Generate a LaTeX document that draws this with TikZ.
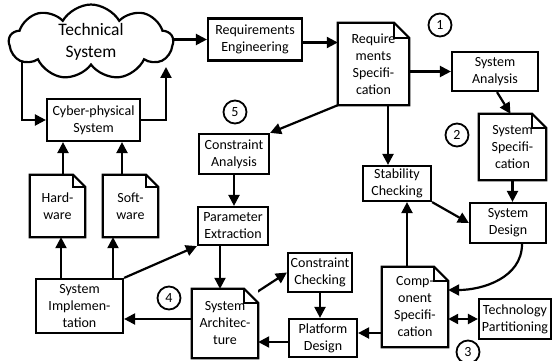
\documentclass[tikz,border=0pt]{standalone}
\usepackage{fontspec}
\setmainfont{Carlito}
\usetikzlibrary{shapes.symbols,arrows.meta,backgrounds,calc}
\begin{document}
\begin{tikzpicture}[x=1pt,y=-1pt,
  lw/.style={line width=2.2pt},
  every node/.style={font=\fontsize{14}{17}\selectfont, align=center, inner sep=0pt},
  box/.style={draw, fill=white, lw},
  docbox/.style={fill=white},
  docline/.style={lw, line join=miter},
  num/.style={draw, circle, line width=1.8pt, minimum size=23pt, fill=white},
  conn/.style={lw, -{Triangle[length=11pt,width=11pt]}},
  bconn/.style={lw, {Triangle[length=10pt,width=10pt]}-{Triangle[length=10pt,width=10pt]}},
  cloudbox/.style={draw, fill=white, lw, cloud, cloud puffs=9, cloud puff arc=120, aspect=2.5,
    font=\fontsize{17.5}{22}\selectfont}
]
\useasboundingbox (0,0) rectangle (552,361);

% nodes
\node[cloudbox, minimum width=164pt, minimum height=64pt] (cloud) at (91,42) {Technical\\System};
\node[box, minimum width=94pt, minimum height=42pt] (re) at (255,39.5) {Requirements\\Engineering};
\node[docbox, minimum width=71pt, minimum height=82pt] (rs) at (373.5,64) {Require\\ments\\Specifi-\\cation};
\node[box, minimum width=86pt, minimum height=39pt] (sa) at (495,71.5) {System\\Analysis};
\node[docbox, minimum width=67pt, minimum height=66pt] (ss) at (512.5,147) {System\\Specifi-\\cation};
\node[box, minimum width=76pt, minimum height=40pt] (sd) at (508,223) {System\\Design};
\node[box, minimum width=68pt, minimum height=35pt] (sc) at (397,183.5) {Stability\\Checking};
\node[docbox, minimum width=66pt, minimum height=80pt] (cs) at (415,307) {Comp-\\onent\\Specifi-\\cation};
\node[box, minimum width=72pt, minimum height=40pt] (tp) at (515,319) {Technology\\Partitioning};
\node[box, minimum width=68pt, minimum height=38pt] (pd) at (323,338) {Platform\\Design};
\node[box, minimum width=64pt, minimum height=39pt] (cc) at (320,272.5) {Constraint\\Checking};
\node[docbox, minimum width=66pt, minimum height=69pt] (arch) at (225,323.5) {System\\Architec-\\ture};
\node[box, minimum width=87pt, minimum height=54pt] (si) at (79.5,306) {System\\Implemen-\\tation};
\node[box, minimum width=70pt, minimum height=38pt] (pe) at (233,226) {Parameter\\Extraction};
\node[box, minimum width=70pt, minimum height=40pt] (ca) at (234,154) {Constraint\\Analysis};
\node[docbox, minimum width=55pt, minimum height=62pt] (hw) at (57.5,206) {Hard-\\ware};
\node[docbox, minimum width=55pt, minimum height=62pt] (sw) at (130.5,206) {Soft-\\ware};
\node[box, minimum width=93pt, minimum height=42pt] (cps) at (93.5,120) {Cyber-physical\\System};

\node[num] (n1) at (440,25) {1};
\node[num] (n2) at (457,135) {2};
\node[num] (n3) at (468,352) {3};
\node[num] (n4) at (169,298) {4};
\node[num] (n5) at (235,112) {5};

% document outlines
\foreach \n/\f in {rs/15,ss/14,cs/14,arch/14,hw/12,sw/12} {
  \draw[docline] (\n.south west) -- (\n.north west) -- ([xshift=-\f pt]\n.north east)
    -- ([yshift=-\f pt]\n.north east) -- (\n.south east) -- cycle;
  \draw[lw] ([xshift=-\f pt]\n.north east) |- ([yshift=-\f pt]\n.north east);
}

% helper coordinates
\coordinate (cloudin) at (166,67);
\coordinate (cloudout) at (22,55);
\coordinate (reout) at ([yshift=-3pt]re.east);
\coordinate (pdin) at ([yshift=5pt]pd.east);
\coordinate (siin) at ([yshift=-13pt]si.east);
\coordinate (archout) at ([xshift=-7pt,yshift=-7pt]arch.north east);

\begin{scope}[on background layer]
\draw[conn] (cloud.center |- re.west) -- (re.west);
\draw[conn] (reout) -- (reout -| rs.west);
\draw[conn] (rs.east |- sa.west) -- (sa.west);
\draw[conn] ([xshift=2pt]sa.south) -- ([xshift=-2pt]ss.north);
\draw[conn] (ss.south) -- (ss.south |- sd.north);
\draw[conn] (rs.south -| 388,0) -- (sc.north -| 388,0);
\draw[conn] (sc.south east) -- (sd.west);
\draw[conn] (cs.north -| 407,0) -- (sc.south -| 407,0);
\draw[conn] ([xshift=14pt]sd.south) to[out=-90,in=0] ([yshift=17pt]cs.east);
\draw[bconn] (cs.east |- tp.west) -- (tp.west);
\draw[conn] (cs.west |- pdin) -- (pdin);
\draw[conn] (cc.south) -- (cc.south |- pd.north);
\draw[conn] (pd.west |- 0,342) -- (arch.east |- 0,342);
\draw[conn] (archout) -- (cc.west);
\draw[conn] (arch.west |- siin) -- (siin);
\draw[conn] (pe.south -| 220,0) -- (arch.north -| 220,0);
\draw[conn] (si.north east) -- (pe.south west);
\draw[conn] (si.north -| 61,0) -- (hw.south -| 61,0);
\draw[conn] (si.north -| 113,0) -- (sw.south -| 113,0);
\draw[conn] (hw.north -| 63,0) -- (cps.south -| 63,0);
\draw[conn] (sw.north -| 122,0) -- (cps.south -| 122,0);
\draw[conn] (ca.south) -- (ca.south |- pe.north);
\draw[conn] (rs.south west) -- (ca.north east);
\draw[conn] (cloudout) |- (cps.west);
\draw[conn] (cps.east) -| (cloudin);
\end{scope}
\end{tikzpicture}
\end{document}
